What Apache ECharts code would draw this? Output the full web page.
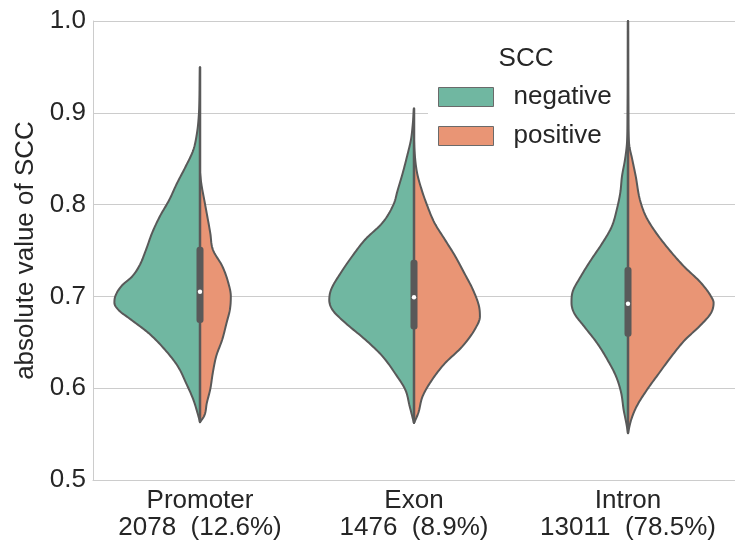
<!DOCTYPE html>
<html>
<head>
<meta charset="utf-8">
<script src="https://cdn.jsdelivr.net/npm/echarts@6/dist/echarts.min.js"></script>
<style>
  html, body { margin: 0; padding: 0; background: #fff; }
  #chart { width: 735px; height: 543px; }
</style>
</head>
<body>
<div id="chart"></div>
<script>
const categories = ['Promoter', 'Exon', 'Intron']
const counts = [2078, 1476, 13011]
const shares = ['12.6', '8.9', '78.5']

// violin outlines: [SCC, relative half width] (1 = widest half)
const promoterNegative = [[0.563, 0], [0.57, 0.02], [0.588, 0.08], [0.605, 0.16], [0.624, 0.26], [0.642, 0.41], [0.66, 0.6], [0.675, 0.81], [0.685, 0.95], [0.693, 1], [0.7, 0.99], [0.711, 0.92], [0.722, 0.79], [0.733, 0.71], [0.751, 0.63], [0.769, 0.56], [0.787, 0.47], [0.805, 0.36], [0.823, 0.27], [0.841, 0.17], [0.859, 0.08], [0.878, 0.035], [0.9, 0.012], [0.95, 0]]
const promoterPositive = [[0.563, 0], [0.57, 0.05], [0.584, 0.08], [0.599, 0.12], [0.617, 0.15], [0.635, 0.19], [0.653, 0.26], [0.671, 0.31], [0.686, 0.35], [0.7, 0.36], [0.715, 0.33], [0.733, 0.26], [0.751, 0.15], [0.769, 0.12], [0.8, 0.06], [0.823, 0.015], [0.835, 0]]
const exonNegative = [[0.562, 0], [0.58, 0.05], [0.598, 0.1], [0.616, 0.22], [0.635, 0.37], [0.653, 0.57], [0.671, 0.8], [0.685, 0.95], [0.696, 0.99], [0.707, 0.97], [0.725, 0.86], [0.744, 0.72], [0.762, 0.57], [0.78, 0.37], [0.8, 0.24], [0.816, 0.19], [0.835, 0.13], [0.853, 0.08], [0.871, 0.035], [0.89, 0.012], [0.905, 0]]
const exonPositive = [[0.562, 0], [0.573, 0.05], [0.591, 0.1], [0.609, 0.21], [0.627, 0.36], [0.645, 0.56], [0.664, 0.71], [0.678, 0.77], [0.689, 0.76], [0.707, 0.69], [0.725, 0.59], [0.744, 0.48], [0.762, 0.36], [0.78, 0.24], [0.8, 0.15], [0.816, 0.09], [0.835, 0.035], [0.858, 0.006], [0.87, 0]]
const intronNegative = [[0.551, 0], [0.562, 0.02], [0.576, 0.05], [0.595, 0.08], [0.613, 0.14], [0.631, 0.24], [0.649, 0.36], [0.667, 0.51], [0.682, 0.63], [0.693, 0.66], [0.704, 0.65], [0.722, 0.55], [0.74, 0.43], [0.758, 0.3], [0.776, 0.19], [0.795, 0.13], [0.813, 0.09], [0.831, 0.07], [0.849, 0.035], [0.867, 0.012], [0.9, 0.004], [1.0, 0]]
const intronPositive = [[0.551, 0], [0.565, 0.035], [0.58, 0.1], [0.598, 0.22], [0.616, 0.36], [0.635, 0.51], [0.653, 0.67], [0.667, 0.83], [0.682, 0.97], [0.693, 1], [0.7, 0.97], [0.715, 0.85], [0.733, 0.65], [0.751, 0.48], [0.769, 0.33], [0.787, 0.21], [0.805, 0.14], [0.831, 0.09], [0.849, 0.05], [0.867, 0.012], [0.9, 0.004], [1.0, 0]]

// inner box
const lows = [0.563, 0.562, 0.551]
const q1 = [0.671, 0.664, 0.656]
const medians = [0.705, 0.699, 0.692]
const q3 = [0.754, 0.74, 0.732]
const highs = [0.95, 0.905, 1.0]

const negativeShapes = [promoterNegative, exonNegative, intronNegative]
const positiveShapes = [promoterPositive, exonPositive, intronPositive]

const green = '#70b7a1'
const orange = '#e99575'
const gray = '#595959'
const textColor = '#262626'
const font = 'Liberation Sans'

// monotone cubic through the read points, so the outline is smooth
function smoothOutline(pts, steps = 10) {
  const n = pts.length
  const xs = pts.map(p => p[0])
  const ys = pts.map(p => p[1])
  const d = []
  for (let i = 0; i < n - 1; i++) d.push((ys[i + 1] - ys[i]) / (xs[i + 1] - xs[i]))
  const m = new Array(n)
  m[0] = d[0]
  m[n - 1] = d[n - 2]
  for (let i = 1; i < n - 1; i++) m[i] = d[i - 1] * d[i] <= 0 ? 0 : (d[i - 1] + d[i]) / 2
  for (let i = 0; i < n - 1; i++) {
    if (d[i] === 0) { m[i] = 0; m[i + 1] = 0; continue }
    const a = m[i] / d[i], b = m[i + 1] / d[i], s = a * a + b * b
    if (s > 9) {
      const t = 3 / Math.sqrt(s)
      m[i] = t * a * d[i]
      m[i + 1] = t * b * d[i]
    }
  }
  const out = []
  for (let i = 0; i < n - 1; i++) {
    const h = xs[i + 1] - xs[i]
    for (let k = 0; k < steps; k++) {
      const t = k / steps
      const t2 = t * t, t3 = t2 * t
      const y = (2 * t3 - 3 * t2 + 1) * ys[i] + (t3 - 2 * t2 + t) * h * m[i] +
        (-2 * t3 + 3 * t2) * ys[i + 1] + (t3 - t2) * h * m[i + 1]
      out.push([xs[i] + t * h, y])
    }
  }
  out.push(pts[n - 1])
  return out
}

const halfRenderer = (shapes, side) => (params, api) => {
  const i = api.value(0)
  const band = api.size([1, 0])[0]
  const maxW = band / 2 * 0.8
  const cx = api.coord([i, 0.5])[0]
  const pts = smoothOutline(shapes[i]).map(([v, w]) => [cx + side * Math.max(w, 0) * maxW, api.coord([i, v])[1]])
  pts.unshift([cx, pts[0][1]])
  pts.push([cx, pts[pts.length - 1][1]])
  return {
    type: 'polygon',
    shape: { points: pts },
    style: { fill: api.visual('color'), stroke: gray, lineWidth: 2, lineJoin: 'round' }
  }
}

const boxRenderer = (params, api) => {
  const i = api.value(0)
  const cx = api.coord([i, 0.5])[0]
  const y = v => api.coord([i, v])[1]
  return {
    type: 'group',
    children: [
      { type: 'line', shape: { x1: cx, y1: y(lows[i]), x2: cx, y2: y(highs[i]) }, style: { stroke: gray, lineWidth: 2.5 } },
      { type: 'rect', shape: { x: cx - 3.5, y: y(q3[i]), width: 7, height: y(q1[i]) - y(q3[i]), r: 3 }, style: { fill: gray } },
      { type: 'circle', shape: { cx: cx, cy: y(medians[i]), r: 2.2 }, style: { fill: '#fff' } }
    ]
  }
}

const chart = echarts.init(document.getElementById('chart'))

const option = {
  animation: false,
  textStyle: { fontFamily: font },
  grid: { left: 93, top: 21, width: 645, height: 459 },
  legend: {
    data: ['negative', 'positive'],
    orient: 'vertical',
    left: 428,
    top: 36,
    padding: [48, 12, 10, 10],
    backgroundColor: '#fff',
    itemWidth: 55,
    itemHeight: 19,
    itemGap: 13,
    icon: 'rect',
    itemStyle: { borderColor: '#6a6a6a', borderWidth: 1 },
    textStyle: { fontSize: 26, color: textColor, lineHeight: 24, padding: [0, 0, 0, 15], fontFamily: font }
  },
  graphic: [{
    type: 'text',
    x: 526,
    y: 59,
    z: 100,
    style: { text: 'SCC', fontSize: 26, fontFamily: font, fill: textColor, align: 'center', verticalAlign: 'middle' }
  }],
  xAxis: {
    type: 'category',
    data: categories,
    axisLine: { show: true, lineStyle: { color: '#cccccc', width: 1 } },
    axisTick: { show: false },
    splitLine: { show: false },
    axisLabel: {
      interval: 0,
      fontSize: 26,
      color: textColor,
      lineHeight: 27,
      margin: 7,
      formatter: (name, idx) => name + '\n' + counts[idx] + '  (' + shares[idx] + '%)'
    }
  },
  yAxis: {
    type: 'value',
    min: 0.5,
    max: 1.0,
    interval: 0.1,
    name: 'absolute value of SCC',
    nameLocation: 'middle',
    nameGap: 51,
    nameTextStyle: { fontSize: 26, color: textColor },
    axisLine: { show: true, lineStyle: { color: '#cccccc', width: 1 } },
    axisTick: { show: false },
    splitLine: { lineStyle: { color: '#cccccc', width: 1 } },
    axisLabel: { fontSize: 26, color: textColor, margin: 7, formatter: v => v.toFixed(1) }
  },
  series: [
    {
      name: 'negative',
      type: 'custom',
      itemStyle: { color: green },
      data: categories.map((c, i) => [i]),
      renderItem: halfRenderer(negativeShapes, -1),
      z: 2
    },
    {
      name: 'positive',
      type: 'custom',
      itemStyle: { color: orange },
      data: categories.map((c, i) => [i]),
      renderItem: halfRenderer(positiveShapes, 1),
      z: 2
    },
    {
      name: 'box',
      type: 'custom',
      data: categories.map((c, i) => [i]),
      renderItem: boxRenderer,
      z: 3
    }
  ]
}

chart.setOption(option)
</script>
</body>
</html>
